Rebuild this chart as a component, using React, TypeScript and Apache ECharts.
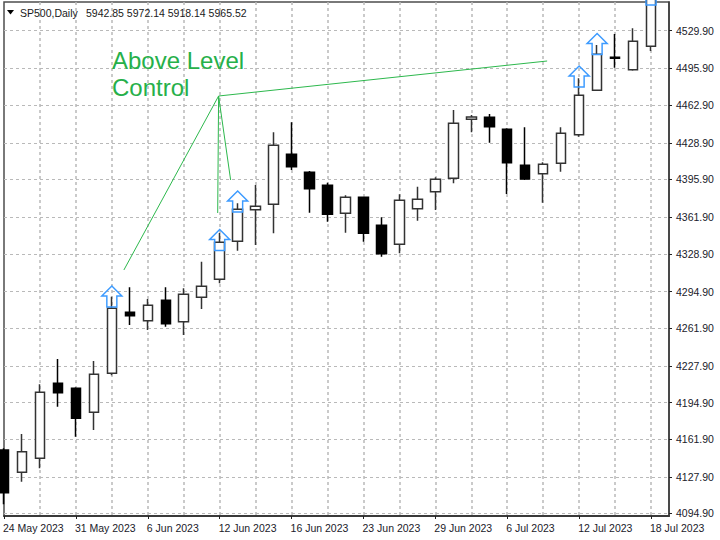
import React, { useEffect, useRef } from "react";
import * as echarts from "echarts";

const dates = [
  "24 May 2023","25 May 2023","26 May 2023","30 May 2023","31 May 2023","1 Jun 2023","2 Jun 2023","5 Jun 2023",
  "6 Jun 2023","7 Jun 2023","8 Jun 2023","9 Jun 2023","12 Jun 2023","13 Jun 2023","14 Jun 2023","15 Jun 2023",
  "16 Jun 2023","20 Jun 2023","21 Jun 2023","22 Jun 2023","23 Jun 2023","26 Jun 2023","27 Jun 2023","28 Jun 2023",
  "29 Jun 2023","30 Jun 2023","3 Jul 2023","5 Jul 2023","6 Jul 2023","7 Jul 2023","10 Jul 2023","11 Jul 2023",
  "12 Jul 2023","13 Jul 2023","14 Jul 2023","17 Jul 2023","18 Jul 2023","19 Jul 2023",
];
const opens = [4152.11,4132.02,4144.63,4212.21,4207.7,4186.08,4221.22,4276.18,4268.61,4286.99,4267.71,4289.69,4305.91,4340.15,4368.62,4373.49,4418.54,4402.32,4390.6,4365.38,4379.79,4354.57,4337.45,4369.52,4384.84,4396.91,4450.07,4451.87,4441.06,4408.62,4401.06,4410.43,4436.2,4476.2,4505.93,4494.76,4515.84];
const closes = [4113.64,4150.58,4204.1,4203.74,4180.67,4220.32,4279.78,4273.11,4282.48,4265.91,4292.4,4299.6,4339.25,4368.98,4371.68,4426.64,4407.36,4387.54,4364.48,4379.79,4347.36,4328.98,4377.09,4377.99,4396.01,4446.47,4452.14,4443.4,4410.97,4396.28,4409.53,4437.46,4471.69,4508.64,4505.03,4520.35,4570];
const lows = [4103.19,4123.55,4135.62,4191.12,4164.09,4170.13,4219.41,4264.73,4260.23,4263.2,4255.72,4279.15,4302.31,4331.68,4336.81,4347.36,4404.39,4365.92,4357.81,4347.9,4339.79,4326.27,4329.34,4358.71,4368.35,4392.41,4438.36,4428.99,4382.77,4395.38,4374.93,4402.86,4434.39,4476.2,4496.56,4493.86,4511.61];
const highs = [4153.64,4166.53,4211.31,4234.1,4208.6,4232.3,4290.23,4298.7,4288.16,4298.7,4297.8,4321.77,4347.63,4374.39,4390.87,4438.36,4447.37,4403.49,4392.95,4381.59,4380.33,4361.77,4382.5,4389.34,4397.81,4458.45,4453.94,4454.85,4441.96,4442.86,4411.33,4442.86,4487.01,4517.01,4526.93,4532.06,4585];
const priceTicks = [4094.9,4127.9,4161.9,4194.9,4227.9,4261.9,4294.9,4328.9,4361.9,4395.9,4428.9,4462.9,4495.9,4529.9];
const arrowPoints: [number, number][] = [[6,4290.41],[12,4341.32],[13,4376.01],[32,4488.63],[33,4517.92],[36,4562.5]];
const hub: [number, number] = [11.94,4471.06];
const annotationEnds: [number, number][] = [[6.67,4314.29],[11.89,4365.65],[12.61,4395.38],[30.22,4502.6]];
const headerName = "SP500,Daily";
const headerOhlc = "5942.85 5972.14 5918.14 5965.52";
const annotationText = "Above Level\nControl";

const FONT = "'Liberation Sans', Arial, sans-serif";
const GRID = "#b9b9b9";
const ARROW = "M10 0 L20 10 L15 10 L15 21 L5 21 L5 10 L0 10 Z";

export default function App() {
  const ref = useRef<HTMLDivElement>(null);
  useEffect(() => {
    const chart = echarts.init(ref.current!, undefined, { renderer: "svg" });
    chart.setOption({
      animation: false,
      backgroundColor: "#ffffff",
      grid: { left: 3, right: 51, top: 2, bottom: 24, show: true, borderColor: "#4d4d4d", borderWidth: 1.5, backgroundColor: "transparent" },
      xAxis: [
        {
          type: "category",
          data: dates,
          boundaryGap: false,
          axisLine: { show: true, onZero: false, lineStyle: { color: "#3a3a3a", width: 2 } },
          axisTick: { show: true, interval: 3, length: 3, lineStyle: { color: "#222222", width: 1 } },
          axisLabel: { interval: 3, align: "left", margin: 6, color: "#1a1a2a", fontFamily: FONT, fontSize: 10.5, padding: [0, 0, 0, -1] },
          splitLine: { show: true, interval: (i: number) => i % 2 === 0 && i > 0, lineStyle: { color: GRID, type: [3, 3], width: 1.5 } },
        },
        { type: "value", min: 0, max: 37, show: false },
      ],
      yAxis: {
        type: "value",
        position: "right",
        min: 4092.64,
        max: 4555.76,
        scale: true,
        axisLine: { show: true, onZero: false, lineStyle: { color: "#3a3a3a", width: 1.5 } },
        axisTick: { show: true, length: 3, customValues: priceTicks, lineStyle: { color: "#222222" } },
        axisLabel: { customValues: priceTicks, formatter: (v: number) => v.toFixed(2), margin: 7, color: "#1a1a2a", fontFamily: FONT, fontSize: 10.5 },
        splitLine: { show: true, lineStyle: { color: GRID, type: [3, 3], width: 1 } },
      },
      series: [
        {
          type: "candlestick",
          data: opens.map((o, i) => [o, closes[i], lows[i], highs[i]]),
          barWidth: 10,
          itemStyle: { color: "#ffffff", color0: "#000000", borderColor: "#333333", borderColor0: "#000000", borderWidth: 1.5 },
          z: 3,
        },
        {
          type: "scatter",
          data: arrowPoints,
          clip: false,
          symbol: "path://" + ARROW,
          symbolSize: [20, 21],
          itemStyle: { color: "rgba(0,0,0,0)", borderColor: "#3d9bff", borderWidth: 1.5, opacity: 1 },
          z: 4,
        },
        ...annotationEnds.map((end) => ({
          type: "line",
          xAxisIndex: 1,
          data: [hub, end],
          showSymbol: false,
          symbol: "none",
          lineStyle: { color: "#2db84d", width: 1 },
          z: 5,
        })),
      ],
      graphic: [
        { type: "polygon", shape: { points: [[7, 10], [14, 10], [10.5, 14.5]] }, style: { fill: "#000000" }, z: 10 },
        { type: "text", x: 20, y: 7, z: 10, style: { text: headerName, fill: "#1a1a1a", font: `10.5px ${FONT}` } },
        { type: "text", x: 86, y: 7, z: 10, style: { text: headerOhlc, fill: "#1a1a1a", font: `10.5px ${FONT}` } },
        { type: "text", x: 112, y: 47, z: 10, style: { text: annotationText, fill: "#26b04a", font: `24px ${FONT}`, lineHeight: 27 } },
      ],
    });
    return () => chart.dispose();
  }, []);
  return <div ref={ref} style={{ position: "absolute", left: 0, top: 0, width: 720, height: 540 }} />;
}
